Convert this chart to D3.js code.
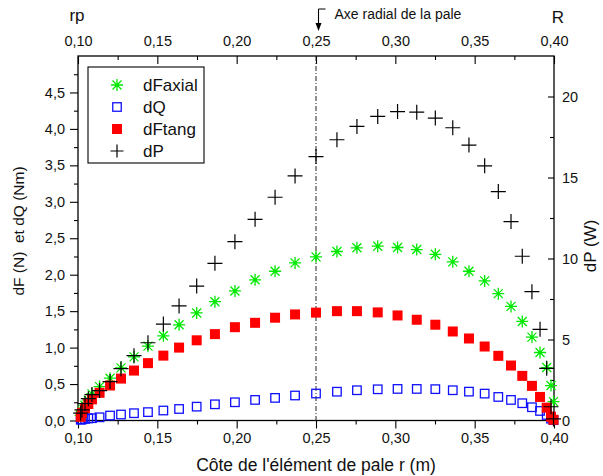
<!DOCTYPE html>
<html><head><meta charset="utf-8">
<script src="https://cdn.jsdelivr.net/npm/d3@7"></script>
<style>body{margin:0;background:#fff}svg text{font-family:"Liberation Sans",Arial,sans-serif}</style>
</head><body>
<svg id="c" width="603" height="476"></svg>
<script>
// r (m)
const rValues = [0.1017,0.1025,0.1044,0.1065,0.1088,0.1136,0.1202,0.1271,0.1353,0.1441,0.1538,0.1637,0.1748,0.1863,0.1989,0.2116,0.2242,0.2368,0.2500,0.2632,0.2758,0.2889,0.3014,0.3135,0.3252,0.3362,0.3464,0.3563,0.3649,0.3729,0.3800,0.3861,0.3912,0.3954,0.3981,0.3997];
const dFaxial = [0.07,0.13,0.21,0.28,0.365,0.465,0.58,0.722,0.873,1.02,1.162,1.313,1.475,1.63,1.777,1.93,2.047,2.162,2.245,2.318,2.369,2.391,2.373,2.345,2.28,2.176,2.047,1.915,1.74,1.565,1.359,1.144,0.933,0.726,0.479,0.259];
const dQ = [0.01,0.015,0.022,0.028,0.032,0.044,0.068,0.082,0.10,0.115,0.137,0.158,0.19,0.222,0.25,0.282,0.31,0.343,0.37,0.395,0.415,0.428,0.433,0.433,0.43,0.415,0.396,0.369,0.323,0.282,0.237,0.182,0.131,0.076,0.025,0.005];
const dFtang = [0.05,0.107,0.168,0.227,0.29,0.38,0.48,0.575,0.685,0.787,0.89,1.00,1.10,1.185,1.28,1.34,1.41,1.455,1.48,1.50,1.50,1.483,1.441,1.382,1.314,1.221,1.125,1.015,0.887,0.754,0.612,0.475,0.323,0.176,0.052,0.01];
const dP = [0.45,0.65,1.05,1.35,1.6,1.85,2.4,3.2,4.0,4.8,5.95,7.07,8.3,9.7,11.04,12.42,13.78,15.1,16.29,17.33,18.15,18.77,19.07,19.03,18.67,18.07,17.0,15.72,14.13,12.28,10.14,7.95,5.63,3.22,0.85,0.1];
const xTicks = [0.10,0.15,0.20,0.25,0.30,0.35,0.40];
const xMinor = [0.125,0.175,0.225,0.275,0.325,0.375];
const yLeftTicks = [0,0.5,1.0,1.5,2.0,2.5,3.0,3.5,4.0,4.5];
const yLeftMinor = [0.25,0.75,1.25,1.75,2.25,2.75,3.25,3.75,4.25,4.75];
const yRightTicks = [0,5,10,15,20];
const yRightMinor = [2.5,7.5,12.5,17.5];
const legendLabels = ["dFaxial","dQ","dFtang","dP"];
const rMarker = 0.25;

const L=78,R=554,T=56,B=420.5;
const svg=d3.select("#c");
const x=d3.scaleLinear([0.1,0.4],[L,R]);
const yL=d3.scaleLinear([0,5.0],[B,T]);
const yR=d3.scaleLinear([0,22.5],[B,T]);
const fmt2=d=>d3.format(".2f")(d).replace(".",",");
const fmt1=d=>d3.format(".1f")(d).replace(".",",");
const fs="14.5px";

function styleAxis(g){g.select(".domain").remove();g.selectAll("line").attr("stroke","#000").attr("stroke-width",1.1);g.selectAll("text").attr("font-size",fs).attr("fill","#111").attr("font-family",'"Liberation Sans",Arial,sans-serif');}

// bottom
svg.append("g").attr("transform",`translate(0,${B})`).call(d3.axisBottom(x).tickValues(xTicks).tickFormat(fmt2).tickSize(8).tickPadding(4)).call(styleAxis);
svg.append("g").attr("transform",`translate(0,${B})`).call(d3.axisBottom(x).tickValues(xMinor).tickFormat("").tickSize(4)).call(styleAxis);
// top (inward)
svg.append("g").attr("transform",`translate(0,${T})`).call(d3.axisTop(x).tickValues(xTicks).tickFormat(fmt2).tickSize(-8).tickPadding(10)).call(styleAxis);
svg.append("g").attr("transform",`translate(0,${T})`).call(d3.axisTop(x).tickValues(xMinor).tickFormat("").tickSize(-4)).call(styleAxis);
// left
svg.append("g").attr("transform",`translate(${L},0)`).call(d3.axisLeft(yL).tickValues(yLeftTicks).tickFormat(fmt1).tickSize(8).tickPadding(5)).call(styleAxis);
svg.append("g").attr("transform",`translate(${L},0)`).call(d3.axisLeft(yL).tickValues(yLeftMinor).tickFormat("").tickSize(4)).call(styleAxis);
// right (inward)
svg.append("g").attr("transform",`translate(${R},0)`).call(d3.axisRight(yR).tickValues(yRightTicks).tickFormat(d=>d).tickSize(-6).tickPadding(8)).call(styleAxis);
svg.append("g").attr("transform",`translate(${R},0)`).call(d3.axisRight(yR).tickValues(yRightMinor).tickFormat("").tickSize(-4)).call(styleAxis);

// frame
svg.append("rect").attr("x",L).attr("y",T).attr("width",R-L).attr("height",B-T).attr("fill","none").attr("stroke","#000").attr("stroke-width",1.3);

// vertical dash-dot line at r=0.25
svg.append("line").attr("x1",x(rMarker)).attr("x2",x(rMarker)).attr("y1",T).attr("y2",B).attr("stroke","#222").attr("stroke-width",1).attr("stroke-dasharray","5,2,1,2");

// annotation arrow
const ax=x(rMarker)+2.5;
svg.append("path").attr("d",`M${ax},9 V26 M${ax},9 H${ax+7}`).attr("stroke","#000").attr("stroke-width",1.1).attr("fill","none");
svg.append("path").attr("d",`M${ax-3},23 L${ax+3},23 L${ax},31 Z`).attr("fill","#000");
svg.append("text").attr("x",ax+16).attr("y",19).attr("font-size","14px").attr("fill","#111").text("Axe radial de la pale");
svg.append("text").attr("x",77).attr("y",21).attr("text-anchor","middle").attr("font-size","17px").attr("fill","#111").text("rp");
svg.append("text").attr("x",558).attr("y",23).attr("text-anchor","middle").attr("font-size","17px").attr("fill","#111").text("R");

// axis titles
svg.append("text").attr("x",(L+R)/2).attr("y",471).attr("text-anchor","middle").attr("font-size","17.5px").attr("fill","#111").text("Côte de l'élément de pale r (m)");
svg.append("text").attr("transform","translate(23.5,231) rotate(-90)").attr("text-anchor","middle").attr("font-size","15.5px").attr("fill","#111").attr("xml:space","preserve").style("white-space","pre").text("dF (N)  et dQ (Nm)");
svg.append("text").attr("transform","translate(595.5,246) rotate(-90)").attr("text-anchor","middle").attr("font-size","17px").attr("fill","#111").text("dP (W)");

// marker drawers
const GREEN="#00e800",BLUE="#1010ff",RED="#ff0000";
function star(g,cx,cy,r){const d=r*0.75;g.append("path").attr("d",`M${cx-r},${cy}H${cx+r}M${cx},${cy-r}V${cy+r}M${cx-d},${cy-d}L${cx+d},${cy+d}M${cx-d},${cy+d}L${cx+d},${cy-d}`).attr("stroke",GREEN).attr("stroke-width",1.3).attr("fill","none");}
function osq(g,cx,cy,s){g.append("rect").attr("x",cx-s/2).attr("y",cy-s/2).attr("width",s).attr("height",s).attr("fill","none").attr("stroke",BLUE).attr("stroke-width",1.3);}
function fsq(g,cx,cy,s){g.append("rect").attr("x",cx-s/2).attr("y",cy-s/2).attr("width",s).attr("height",s).attr("fill",RED);}
function plus(g,cx,cy,r){g.append("path").attr("d",`M${cx-r},${cy}H${cx+r}M${cx},${cy-r}V${cy+r}`).attr("stroke","#000").attr("stroke-width",1.2).attr("fill","none");}

const gQ=svg.append("g"),gA=svg.append("g"),gT=svg.append("g"),gP=svg.append("g");
rValues.forEach((r,i)=>{
  osq(gQ,x(r),yL(dQ[i]),8.5);
  star(gA,x(r),yL(dFaxial[i]),6);
  fsq(gT,x(r),yL(dFtang[i]),10);
  plus(gP,x(r),yR(dP[i]),7.5);
});

// legend
svg.append("rect").attr("x",88).attr("y",67).attr("width",116).attr("height",96).attr("fill","#fff").attr("stroke","#000").attr("stroke-width",1.1);
const lg=svg.append("g");
const rows=[85,107,129,151];
star(lg,117,rows[0],6);
osq(lg,117,rows[1],8.5);
fsq(lg,117,rows[2],10);
plus(lg,117,rows[3],6.5);
legendLabels.forEach((t,i)=>lg.append("text").attr("x",143).attr("y",rows[i]).attr("dy","0.36em").attr("font-size","17px").attr("fill","#111").text(t));
</script>
</body></html>
